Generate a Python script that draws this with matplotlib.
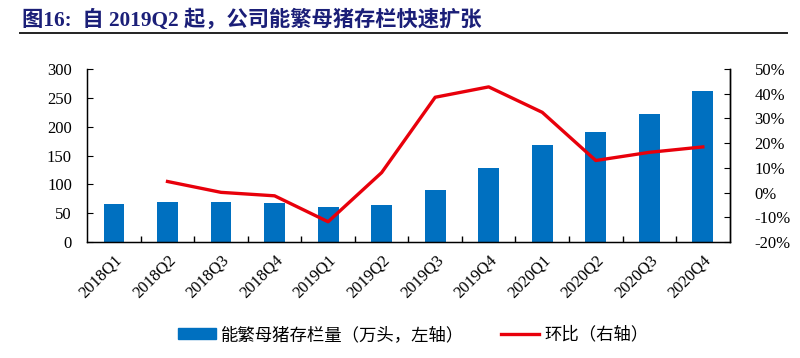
import matplotlib
matplotlib.use("Agg")
import matplotlib.pyplot as plt
from matplotlib.lines import Line2D
from matplotlib.patches import Patch
from matplotlib.ticker import FuncFormatter, FixedLocator

plt.rcParams['font.family'] = ['Liberation Serif', 'Noto Sans CJK SC', 'DejaVu Sans']

quarters = ["2018Q1", "2018Q2", "2018Q3", "2018Q4", "2019Q1", "2019Q2",
            "2019Q3", "2019Q4", "2020Q1", "2020Q2", "2020Q3", "2020Q4"]
sows = [66, 69, 69, 67, 60, 65, 90, 128, 169, 191, 222, 262]
qoq_quarters = quarters[1:]
qoq = [4.5, 0.1, -1.3, -11.8, 8.1, 38.6, 42.8, 32.5, 13.0, 16.3, 18.5]

title = "图16:  自 2019Q2 起，公司能繁母猪存栏快速扩张"
bar_label = "能繁母猪存栏量（万头，左轴）"
line_label = "环比（右轴）"

bar_color = "#0070C0"
line_color = "#E8000B"
navy = "#1B1F78"

fig = plt.figure(figsize=(8.0, 3.58), dpi=100)
fig.text(0.027, 0.928, title, fontsize=15.3, fontweight='bold', color=navy,
         family=['Liberation Serif', 'Noto Sans CJK SC'], va='baseline')
fig.add_artist(Line2D([0.025, 0.984], [0.908, 0.908], color='#222222', lw=1.4))

ax = fig.add_axes([0.109, 0.324, 0.803, 0.483])
x = list(range(len(quarters)))
ax.bar(x, sows, width=0.39, color=bar_color, zorder=2)
ax.set_xlim(-0.5, len(quarters) - 0.5)
ax.set_ylim(0, 300)
ax.set_yticks([0, 50, 100, 150, 200, 250, 300])
ax.set_xticks(x)
ax.set_xticklabels(quarters, rotation=45, ha='right', rotation_mode='anchor', fontsize=12)
ax.tick_params(axis='x', which='major', length=0, pad=7)
ax.xaxis.set_minor_locator(FixedLocator([i + 0.5 for i in range(len(quarters) - 1)]))
ax.tick_params(axis='x', which='minor', direction='in', length=4, width=1)
ax.tick_params(axis='y', direction='in', length=4, labelsize=12, pad=11)
ax.spines['top'].set_visible(False)
for s in ['left', 'bottom', 'right']:
    ax.spines[s].set_linewidth(1)
    ax.spines[s].set_color('black')

ax2 = ax.twinx()
ax2.plot([quarters.index(q) for q in qoq_quarters], qoq, color=line_color, lw=2.4, zorder=3)
ax2.set_ylim(-20, 50)
ax2.set_yticks(list(range(-20, 51, 10)))
ax2.yaxis.set_major_formatter(FuncFormatter(lambda v, p: f"{int(v)}%"))
ax2.tick_params(axis='y', direction='in', length=4, labelsize=12, pad=18)
ax2.spines['top'].set_visible(False)
ax2.spines['right'].set_linewidth(1)

handles = [Patch(color=bar_color), Line2D([0], [0], color=line_color, lw=2.4)]
fig.legend(handles, [bar_label, line_label], loc='center left', bbox_to_anchor=(0.203, 0.065),
           ncol=2, frameon=False, handlelength=2.2, handleheight=0.6, handletextpad=0.3,
           columnspacing=2.1, prop={'family': ['Noto Sans CJK SC'], 'size': 12.5})

fig.savefig("out.png", dpi=100)
